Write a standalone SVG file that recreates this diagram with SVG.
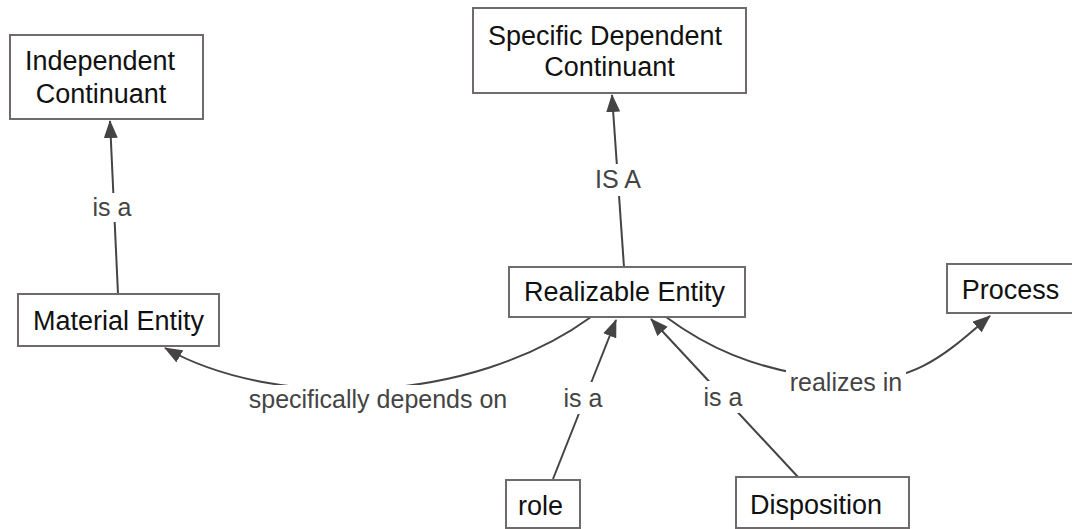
<svg xmlns="http://www.w3.org/2000/svg" width="1072" height="529" viewBox="0 0 1072 529">
  <style>
    .box { fill: #ffffff; stroke: #706b6b; stroke-width: 2; }
    .ntext { font-family: "Liberation Sans", Arial, sans-serif; font-size: 27px; fill: #111111; text-anchor: middle; }
    .edge { fill: none; stroke: #444444; stroke-width: 2; marker-end: url(#arrow); }
    .lbg { fill: #ffffff; }
    .ltext { font-family: "Liberation Sans", Arial, sans-serif; font-size: 25px; fill: #444444; text-anchor: middle; }
  </style>
  <defs>
    <marker id="arrow" markerUnits="userSpaceOnUse" markerWidth="18" markerHeight="14" refX="17" refY="7" orient="auto">
      <path d="M0,0 L18,7 L0,14 Z" fill="#444444"/>
    </marker>
  </defs>
  <rect width="1072" height="529" fill="#ffffff"/>

  <!-- connectors with their labels -->
  <g id="connectors">
    <path class="edge" d="M118,294 L110,121"/>
    <path class="edge" d="M624,267 L612,95"/>
    <path class="edge" d="M591,317 C470,405 275,410 165,348"/>
    <path class="edge" d="M553,479 L616,320"/>
    <path class="edge" d="M798,477 L651,319"/>
    <path class="edge" d="M666,317 C700,342 750,372 845,380 C915,386 950,350 990,316"/>

    <rect class="lbg" x="91" y="193" width="42" height="29"/>
    <text class="ltext" x="112" y="216">is a</text>
    <rect class="lbg" x="593" y="164" width="51" height="32"/>
    <text class="ltext" x="618" y="188">IS A</text>
    <rect class="lbg" x="245" y="385" width="266" height="31"/>
    <text class="ltext" x="378" y="408">specifically depends on</text>
    <rect class="lbg" x="562" y="382" width="42" height="32"/>
    <text class="ltext" x="583" y="407">is a</text>
    <rect class="lbg" x="702" y="381" width="42" height="32"/>
    <text class="ltext" x="723" y="406">is a</text>
    <rect class="lbg" x="786" y="369" width="120" height="28"/>
    <text class="ltext" x="846" y="391">realizes in</text>
  </g>

  <g id="independent-continuant">
    <rect class="box" x="10" y="35" width="193" height="84"/>
    <text class="ntext" x="100" y="70">Independent</text>
    <text class="ntext" x="101" y="103">Continuant</text>
  </g>

  <g id="specific-dependent-continuant">
    <rect class="box" x="473" y="8" width="273" height="85"/>
    <text class="ntext" x="605" y="45">Specific Dependent</text>
    <text class="ntext" x="609.5" y="76">Continuant</text>
  </g>

  <g id="material-entity">
    <rect class="box" x="18" y="294" width="201" height="52"/>
    <text class="ntext" x="118.5" y="330">Material Entity</text>
  </g>

  <g id="realizable-entity">
    <rect class="box" x="509" y="267" width="236" height="50"/>
    <text class="ntext" x="624.5" y="301">Realizable Entity</text>
  </g>

  <g id="process">
    <rect class="box" x="947" y="264" width="133" height="49"/>
    <text class="ntext" x="1010.5" y="299">Process</text>
  </g>

  <g id="role">
    <rect class="box" x="506" y="480" width="74" height="48"/>
    <text class="ntext" x="540.5" y="515">role</text>
  </g>

  <g id="disposition">
    <rect class="box" x="736" y="477" width="173" height="51"/>
    <text class="ntext" x="816" y="514">Disposition</text>
  </g>
</svg>
